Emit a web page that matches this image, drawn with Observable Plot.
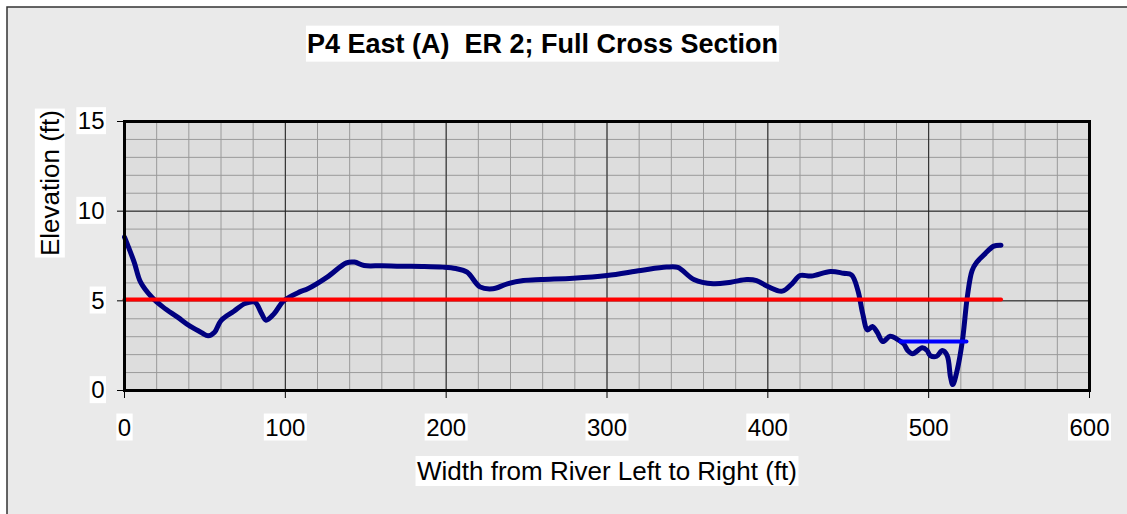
<!DOCTYPE html>
<html>
<head>
<meta charset="utf-8">
<script src="https://cdn.jsdelivr.net/npm/d3@7"></script>
<script src="https://cdn.jsdelivr.net/npm/@observablehq/plot@0.6"></script>
<style>
  body { margin: 0; background: #ffffff; }
  svg { display: block; }
</style>
</head>
<body>
<div id="chart"></div>
<script>
// ---- Data ----
const widthFt = [0, 6, 10, 17, 24, 33, 41, 48, 52, 56, 60, 68, 75, 81, 85, 88, 93, 99, 109, 114,
  126, 138, 143, 149, 160, 172, 185, 198, 206, 213, 221, 229, 238, 248, 259, 279, 300, 321, 337, 344,
  354, 366, 377, 387, 393, 400, 409, 415, 420, 427, 439, 447, 452, 456, 459, 462, 465, 468, 471.5, 476,
  480, 484.5, 487, 490, 496, 499, 501, 505, 508.5, 511.5, 513.6, 515, 517.7, 521, 524, 527, 530, 535, 540.5, 545];
const elevationFt = [8.55, 7.16, 6.04, 5.2, 4.65, 4.09, 3.57, 3.22, 3.05, 3.25, 3.9, 4.42, 4.85, 4.93, 4.33, 3.92, 4.28, 5.0, 5.5, 5.67,
  6.32, 7.12, 7.16, 6.97, 6.96, 6.93, 6.92, 6.88, 6.8, 6.6, 5.78, 5.67, 5.95, 6.13, 6.19, 6.26, 6.41, 6.69, 6.88, 6.86,
  6.19, 5.95, 6.04, 6.19, 6.13, 5.8, 5.54, 5.95, 6.41, 6.38, 6.64, 6.54, 6.45, 5.58, 4.28, 3.38, 3.57, 3.25, 2.73, 3.03,
  2.88, 2.6, 2.23, 2.05, 2.38, 2.23, 1.95, 1.91, 2.23, 1.95, 0.74, 0.33, 1.12, 2.79, 5.2, 6.69, 7.16, 7.62, 8.05, 8.1];
const waterLineX = [0, 545];
const waterLineY = 5.07;
const poolLineX = [482.5, 523.5];
const poolLineY = 2.73;
const xTicks = [0, 100, 200, 300, 400, 500, 600];
const yTicks = [0, 5, 10, 15];
const xMinorStep = 20;
const yMinorStep = 1;
const titleText = "P4 East (A)  ER 2; Full Cross Section";
const xLabelText = "Width from River Left to Right (ft)";
const yLabelText = "Elevation (ft)";

// ---- Tables built from the arrays ----
const profile = widthFt.map((x, i) => ({x, y: elevationFt[i]}));
const water = waterLineX.map(x => ({x, y: waterLineY}));
const pool = poolLineX.map(x => ({x, y: poolLineY}));
const xMinor = d3.range(0, 600 + 1e-9, xMinorStep);
const yMinor = d3.range(0, 15 + 1e-9, yMinorStep);

const chart = Plot.plot({
  width: 1127,
  height: 514,
  marginLeft: 124,
  marginRight: 38,
  marginTop: 121,
  marginBottom: 124,
  style: {fontFamily: "'Liberation Sans', Arial, sans-serif", background: "transparent", color: "#000", overflow: "visible"},
  x: {domain: [0, 600]},
  y: {domain: [0, 15]},
  marks: [
    Plot.frame({fill: "#dddddd"}),
    Plot.gridX(xMinor, {stroke: "#9a9a9a", strokeOpacity: 1, strokeWidth: 1}),
    Plot.gridY(yMinor, {stroke: "#9a9a9a", strokeOpacity: 1, strokeWidth: 1}),
    Plot.gridX(xTicks, {stroke: "#222", strokeOpacity: 1, strokeWidth: 1}),
    Plot.gridY(yTicks, {stroke: "#222", strokeOpacity: 1, strokeWidth: 1}),
    Plot.line(profile, {x: "x", y: "y", stroke: "#000080", strokeWidth: 5, curve: "catmull-rom", strokeLinecap: "round", strokeLinejoin: "round"}),
    Plot.line(water, {x: "x", y: "y", stroke: "#ff0000", strokeWidth: 4, strokeLinecap: "round"}),
    Plot.line(pool, {x: "x", y: "y", stroke: "#0000ff", strokeWidth: 4, strokeLinecap: "round"}),
    Plot.frame({stroke: "#000", strokeWidth: 3}),
    Plot.axisX(xTicks, {tickSize: 8, tickPadding: 20, fontSize: 24, label: null}),
    Plot.axisY(yTicks, {tickSize: 7, tickPadding: 13, fontSize: 24, label: null}),
    Plot.text([xLabelText], {text: d => d, frameAnchor: "bottom", dy: 71, lineAnchor: "top", fontSize: 26}),
    Plot.text([yLabelText], {text: d => d, frameAnchor: "left", dx: -74, rotate: -90, fontSize: 26}),
    Plot.text([titleText], {text: d => d, frameAnchor: "top", dx: -64.5, dy: -88, fontSize: 27, fontWeight: "bold"})
  ]
});

document.getElementById("chart").appendChild(chart);

// Outer chart-area background with its border
const svg = d3.select(chart);
svg.insert("rect", ":first-child")
  .attr("x", 7).attr("y", 7).attr("width", 1140).attr("height", 530)
  .attr("fill", "#eaeaea").attr("stroke", "#333").attr("stroke-width", 1.5);

// White boxes behind every text label
svg.selectAll("text").each(function() {
  const bb = this.getBBox();
  const isTitle = this.textContent === titleText;
  const px = isTitle ? 1 : 1.5, py = isTitle ? 3 : 0;
  const r = document.createElementNS("http://www.w3.org/2000/svg", "rect");
  r.setAttribute("x", bb.x - px);
  r.setAttribute("y", bb.y - py);
  r.setAttribute("width", bb.width + 2 * px);
  r.setAttribute("height", bb.height + 2 * py);
  r.setAttribute("fill", "#ffffff");
  r.setAttribute("stroke", "none");
  const t = this.getAttribute("transform");
  if (t) r.setAttribute("transform", t);
  this.parentNode.insertBefore(r, this);
});
</script>
</body>
</html>
